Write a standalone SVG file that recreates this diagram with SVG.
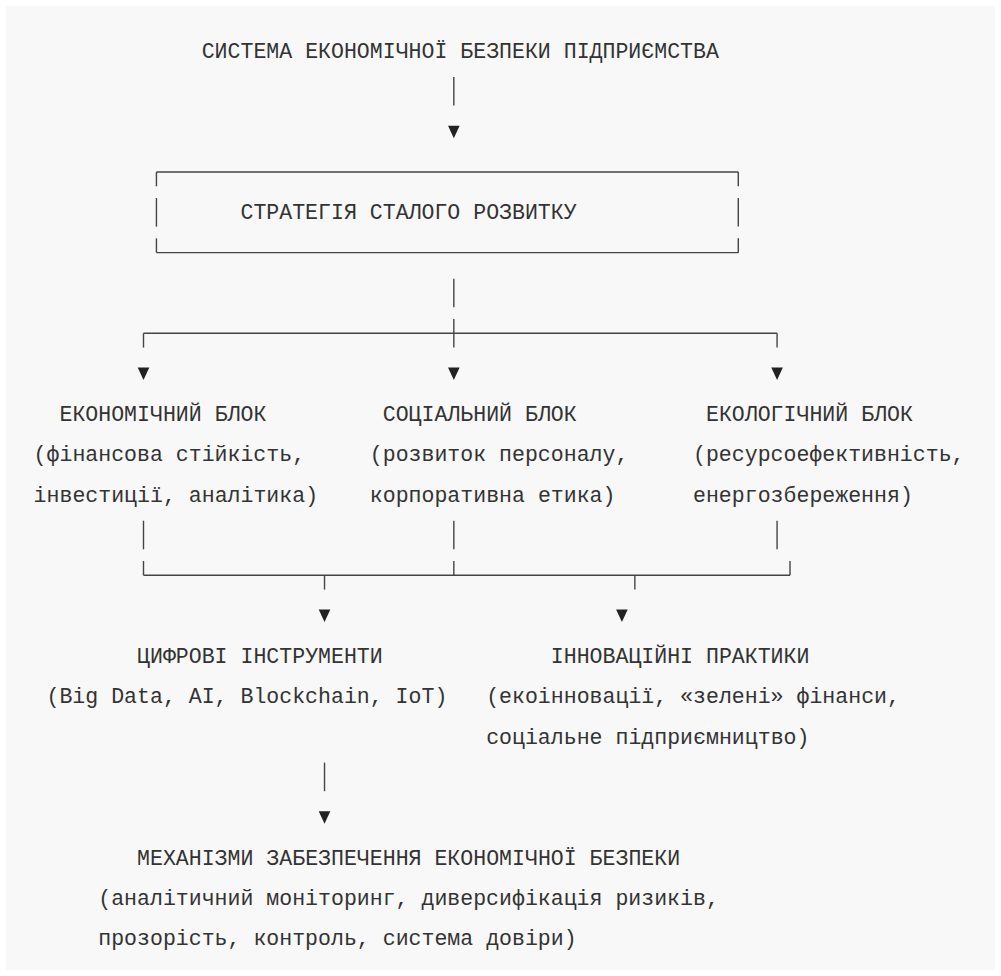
<svg xmlns="http://www.w3.org/2000/svg" xmlns:xlink="http://www.w3.org/1999/xlink" width="1001" height="976" viewBox="0 0 1001 976">
<style>
.t{font-family:"Liberation Mono","DejaVu Sans Mono",monospace;font-size:21.5px;fill:#333;white-space:pre}
.c line,.n line{stroke:#444;stroke-width:1.4;fill:none}
.a{fill:#222}
</style>
<defs>
<path id="arr" d="M-5.8,-6 L5.8,-6 L0,6.5 Z"/>
</defs>
<rect x="0" y="0" width="1001" height="976" fill="#ffffff"/>
<rect x="6" y="6" width="989" height="964" fill="#f8f8f8"/>

<g id="node-system">
<text class="t" x="201.69" y="58" textLength="517.2" lengthAdjust="spacingAndGlyphs">СИСТЕМА ЕКОНОМІЧНОЇ БЕЗПЕКИ ПІДПРИЄМСТВА</text>
</g>

<g id="node-strategy" class="n">
<line x1="156.44" y1="172" x2="738.29" y2="172"/>
<line x1="156.44" y1="172" x2="156.44" y2="186.3"/>
<line x1="738.29" y1="172" x2="738.29" y2="186.3"/>
<line x1="156.44" y1="198" x2="156.44" y2="226.6"/>
<line x1="738.29" y1="198" x2="738.29" y2="226.6"/>
<line x1="156.44" y1="252.65" x2="738.29" y2="252.65"/>
<line x1="156.44" y1="238.35" x2="156.44" y2="252.65"/>
<line x1="738.29" y1="238.35" x2="738.29" y2="252.65"/>
<text class="t" x="240.48" y="219.3" textLength="336.2" lengthAdjust="spacingAndGlyphs">СТРАТЕГІЯ СТАЛОГО РОЗВИТКУ</text>
</g>

<g id="node-economic">
<text class="t" x="59.46" y="421" textLength="206.9" lengthAdjust="spacingAndGlyphs">ЕКОНОМІЧНИЙ БЛОК</text>
<text class="t" x="33.6" y="461.3" textLength="271.5" lengthAdjust="spacingAndGlyphs">(фінансова стійкість,</text>
<text class="t" x="33.6" y="501.6" textLength="284.5" lengthAdjust="spacingAndGlyphs">інвестиції, аналітика)</text>
</g>

<g id="node-social">
<text class="t" x="382.71" y="421" textLength="194" lengthAdjust="spacingAndGlyphs">СОЦІАЛЬНИЙ БЛОК</text>
<text class="t" x="369.78" y="461.3" textLength="258.6" lengthAdjust="spacingAndGlyphs">(розвиток персоналу,</text>
<text class="t" x="369.78" y="501.6" textLength="245.7" lengthAdjust="spacingAndGlyphs">корпоративна етика)</text>
</g>

<g id="node-ecological">
<text class="t" x="705.96" y="421" textLength="206.9" lengthAdjust="spacingAndGlyphs">ЕКОЛОГІЧНИЙ БЛОК</text>
<text class="t" x="693.03" y="461.3" textLength="271.5" lengthAdjust="spacingAndGlyphs">(ресурсоефективність,</text>
<text class="t" x="693.03" y="501.6" textLength="219.8" lengthAdjust="spacingAndGlyphs">енергозбереження)</text>
</g>

<g id="node-digital">
<text class="t" x="137.04" y="663" textLength="245.7" lengthAdjust="spacingAndGlyphs">ЦИФРОВІ ІНСТРУМЕНТИ</text>
<text class="t" x="46.53" y="703.3" textLength="400.8" lengthAdjust="spacingAndGlyphs">(Big Data, AI, Blockchain, IoT)</text>
</g>

<g id="node-innovation">
<text class="t" x="550.8" y="663" textLength="258.6" lengthAdjust="spacingAndGlyphs">ІННОВАЦІЙНІ ПРАКТИКИ</text>
<text class="t" x="486.15" y="703.3" textLength="413.8" lengthAdjust="spacingAndGlyphs">(екоінновації, «зелені» фінанси,</text>
<text class="t" x="486.15" y="743.6" textLength="323.3" lengthAdjust="spacingAndGlyphs">соціальне підприємництво)</text>
</g>

<g id="node-mechanisms">
<text class="t" x="137.04" y="864.6" textLength="543.1" lengthAdjust="spacingAndGlyphs">МЕХАНІЗМИ ЗАБЕЗПЕЧЕННЯ ЕКОНОМІЧНОЇ БЕЗПЕКИ</text>
<text class="t" x="98.25" y="904.9" textLength="620.6" lengthAdjust="spacingAndGlyphs">(аналітичний моніторинг, диверсифікація ризиків,</text>
<text class="t" x="98.25" y="945.3" textLength="478.4" lengthAdjust="spacingAndGlyphs">прозорість, контроль, система довіри)</text>
</g>

<g id="connectors" class="c">
<line x1="453.83" y1="77" x2="453.83" y2="105.6"/>
<use xlink:href="#arr" href="#arr" class="a" x="453.83" y="131.7"/>

<line x1="453.83" y1="278.7" x2="453.83" y2="307.3"/>
<line x1="143.5" y1="333.3" x2="777.08" y2="333.3"/>
<line x1="143.5" y1="333.3" x2="143.5" y2="347.6"/>
<line x1="453.83" y1="319" x2="453.83" y2="347.6"/>
<line x1="777.08" y1="333.3" x2="777.08" y2="347.6"/>
<use xlink:href="#arr" href="#arr" class="a" x="143.5" y="373.6"/>
<use xlink:href="#arr" href="#arr" class="a" x="453.83" y="373.6"/>
<use xlink:href="#arr" href="#arr" class="a" x="777.08" y="373.6"/>

<line x1="143.5" y1="520.7" x2="143.5" y2="549.3"/>
<line x1="453.83" y1="520.7" x2="453.83" y2="549.3"/>
<line x1="777.08" y1="520.7" x2="777.08" y2="549.3"/>
<line x1="143.5" y1="575.3" x2="790.01" y2="575.3"/>
<line x1="143.5" y1="561" x2="143.5" y2="575.3"/>
<line x1="453.83" y1="561" x2="453.83" y2="575.3"/>
<line x1="790.01" y1="561" x2="790.01" y2="575.3"/>
<line x1="324.53" y1="575.3" x2="324.53" y2="589.6"/>
<line x1="634.85" y1="575.3" x2="634.85" y2="589.6"/>
<use xlink:href="#arr" href="#arr" class="a" x="324.53" y="615.6"/>
<use xlink:href="#arr" href="#arr" class="a" x="621.92" y="615.6"/>

<line x1="324.53" y1="762.6" x2="324.53" y2="791.2"/>
<use xlink:href="#arr" href="#arr" class="a" x="324.53" y="817.3"/>
</g>
</svg>
